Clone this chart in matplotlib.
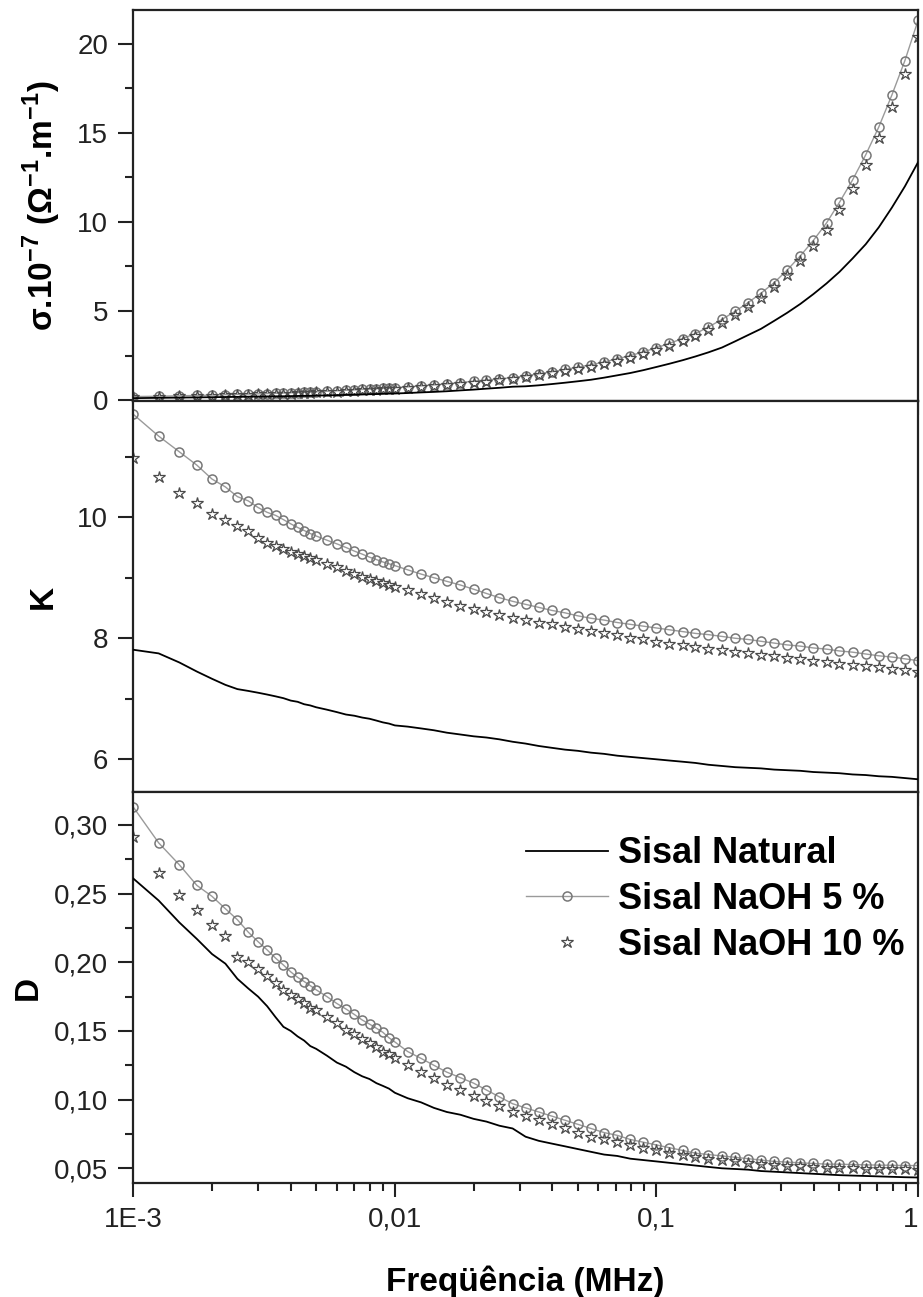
import matplotlib
matplotlib.use("Agg")
import matplotlib.pyplot as plt
from matplotlib.ticker import FixedLocator, FuncFormatter, MultipleLocator, LogLocator, NullFormatter
from matplotlib.transforms import ScaledTranslation

plt.rcParams['font.family'] = ['Liberation Sans', 'DejaVu Sans']
plt.rcParams['mathtext.fontset'] = 'custom'
plt.rcParams['mathtext.rm'] = 'Liberation Sans'
plt.rcParams['mathtext.bf'] = 'Liberation Sans:bold'

# frequency (MHz)
freq = [0.001, 0.00125, 0.0015, 0.00175, 0.002, 0.00225, 0.0025, 0.00275, 0.003, 0.00325,
        0.0035, 0.00375, 0.004, 0.00425, 0.0045, 0.00475, 0.005, 0.0055, 0.006, 0.0065,
        0.007, 0.0075, 0.008, 0.0085, 0.009, 0.0095,
        0.01, 0.0112, 0.0126, 0.0141, 0.0158, 0.0178, 0.02, 0.0224, 0.0251, 0.0282,
        0.0316, 0.0355, 0.0398, 0.0447, 0.0501, 0.0562, 0.0631, 0.0708, 0.0794, 0.0891,
        0.1, 0.112, 0.126, 0.141, 0.158, 0.178, 0.2, 0.224, 0.251, 0.282,
        0.316, 0.355, 0.398, 0.447, 0.501, 0.562, 0.631, 0.708, 0.794, 0.891, 1.0]

labels = ["Sisal Natural", "Sisal NaOH 5 %", "Sisal NaOH 10 %"]

# conductivity sigma.10^-7
sig_nat = [0.109, 0.127, 0.140, 0.152, 0.162, 0.174, 0.181, 0.191, 0.200, 0.207,
           0.212, 0.216, 0.225, 0.232, 0.239, 0.244, 0.252, 0.266, 0.277, 0.292,
           0.303, 0.315, 0.330, 0.339, 0.351, 0.363,
           0.370, 0.397, 0.432, 0.461, 0.497, 0.545, 0.589, 0.643, 0.691, 0.752,
           0.775, 0.830, 0.900, 0.976, 1.057, 1.143, 1.26, 1.39, 1.52, 1.68,
           1.86, 2.04, 2.24, 2.45, 2.68, 2.95, 3.30, 3.65, 4.00, 4.45,
           4.90, 5.40, 5.95, 6.55, 7.20, 7.95, 8.75, 9.70, 10.80, 12.00, 13.35]
sig_5 = [0.197, 0.218, 0.242, 0.261, 0.283, 0.303, 0.321, 0.337, 0.352, 0.368,
         0.383, 0.397, 0.410, 0.424, 0.440, 0.454, 0.468, 0.497, 0.524, 0.550,
         0.575, 0.598, 0.622, 0.645, 0.667, 0.683,
         0.702, 0.741, 0.797, 0.852, 0.910, 0.985, 1.060, 1.125, 1.192, 1.264,
         1.365, 1.476, 1.591, 1.718, 1.846, 1.986, 2.137, 2.324, 2.492, 2.707,
         2.939, 3.182, 3.457, 3.732, 4.103, 4.529, 4.983, 5.472, 6.001, 6.595,
         7.297, 8.100, 8.963, 9.947, 11.106, 12.358, 13.767, 15.331, 17.116, 19.06, 21.31]
sig_10 = [0.178, 0.197, 0.217, 0.238, 0.255, 0.274, 0.281, 0.300, 0.315, 0.330,
          0.344, 0.357, 0.370, 0.385, 0.400, 0.413, 0.428, 0.453, 0.479, 0.499,
          0.524, 0.544, 0.565, 0.585, 0.604, 0.626,
          0.642, 0.687, 0.737, 0.790, 0.842, 0.908, 0.975, 1.043, 1.115, 1.195,
          1.288, 1.391, 1.499, 1.614, 1.734, 1.859, 2.022, 2.195, 2.378, 2.579,
          2.791, 3.016, 3.328, 3.587, 3.935, 4.344, 4.775, 5.231, 5.740, 6.363,
          7.041, 7.805, 8.643, 9.572, 10.66, 11.85, 13.22, 14.74, 16.43, 18.31, 20.37]

# dielectric constant K
k_nat = [7.81, 7.75, 7.60, 7.45, 7.33, 7.23, 7.16, 7.13, 7.10, 7.07,
         7.04, 7.01, 6.97, 6.95, 6.91, 6.89, 6.86, 6.82, 6.78, 6.74,
         6.72, 6.69, 6.67, 6.64, 6.61, 6.59,
         6.56, 6.54, 6.51, 6.48, 6.44, 6.41, 6.38, 6.36, 6.33, 6.29,
         6.26, 6.22, 6.19, 6.16, 6.14, 6.11, 6.09, 6.06, 6.04, 6.02,
         6.00, 5.98, 5.96, 5.94, 5.91, 5.89, 5.87, 5.86, 5.85, 5.83,
         5.82, 5.81, 5.79, 5.78, 5.77, 5.75, 5.74, 5.72, 5.71, 5.69, 5.67]
k_5 = [11.70, 11.34, 11.08, 10.86, 10.63, 10.50, 10.34, 10.27, 10.16, 10.08,
       10.03, 9.96, 9.89, 9.83, 9.78, 9.73, 9.69, 9.62, 9.56, 9.50,
       9.44, 9.39, 9.34, 9.30, 9.26, 9.23,
       9.20, 9.13, 9.06, 9.00, 8.94, 8.88, 8.81, 8.74, 8.67, 8.61,
       8.56, 8.51, 8.46, 8.42, 8.37, 8.33, 8.30, 8.26, 8.23, 8.20,
       8.17, 8.14, 8.11, 8.08, 8.06, 8.03, 8.00, 7.98, 7.95, 7.92,
       7.89, 7.87, 7.84, 7.82, 7.79, 7.77, 7.74, 7.71, 7.69, 7.66, 7.63]
k_10 = [10.97, 10.67, 10.40, 10.23, 10.06, 9.96, 9.86, 9.77, 9.66, 9.58,
        9.52, 9.47, 9.43, 9.39, 9.36, 9.33, 9.29, 9.23, 9.17, 9.11,
        9.06, 9.02, 8.98, 8.94, 8.91, 8.88,
        8.85, 8.79, 8.73, 8.66, 8.60, 8.54, 8.48, 8.43, 8.38, 8.34,
        8.30, 8.26, 8.23, 8.19, 8.16, 8.12, 8.09, 8.05, 8.01, 7.98,
        7.94, 7.91, 7.89, 7.86, 7.83, 7.81, 7.78, 7.75, 7.73, 7.70,
        7.68, 7.65, 7.63, 7.60, 7.58, 7.56, 7.54, 7.52, 7.49, 7.47, 7.45]

# loss factor D
d_nat = [0.261, 0.245, 0.229, 0.217, 0.206, 0.199, 0.188, 0.181, 0.175, 0.168,
         0.160, 0.153, 0.150, 0.146, 0.143, 0.139, 0.137, 0.132, 0.127, 0.124,
         0.120, 0.117, 0.115, 0.112, 0.110, 0.108,
         0.105, 0.101, 0.098, 0.094, 0.091, 0.089, 0.086, 0.084, 0.081, 0.079,
         0.073, 0.070, 0.068, 0.066, 0.064, 0.062, 0.060, 0.059, 0.057, 0.056,
         0.055, 0.054, 0.053, 0.052, 0.051, 0.050, 0.0495, 0.049, 0.048, 0.0475,
         0.047, 0.0465, 0.046, 0.0455, 0.045, 0.0447, 0.0444, 0.0441, 0.0438, 0.0435, 0.0433]
d_5 = [0.313, 0.287, 0.271, 0.256, 0.248, 0.239, 0.231, 0.222, 0.215, 0.209,
       0.203, 0.198, 0.193, 0.189, 0.186, 0.183, 0.180, 0.175, 0.170, 0.166,
       0.162, 0.158, 0.155, 0.152, 0.149, 0.145,
       0.142, 0.135, 0.130, 0.125, 0.120, 0.116, 0.112, 0.107, 0.102, 0.097,
       0.094, 0.091, 0.088, 0.085, 0.082, 0.079, 0.076, 0.074, 0.071, 0.069,
       0.067, 0.065, 0.063, 0.061, 0.060, 0.059, 0.058, 0.057, 0.056, 0.055,
       0.0545, 0.054, 0.0535, 0.053, 0.053, 0.0527, 0.0525, 0.0523, 0.0522, 0.052, 0.052]
d_10 = [0.291, 0.265, 0.249, 0.238, 0.227, 0.219, 0.204, 0.200, 0.195, 0.190,
        0.185, 0.180, 0.176, 0.173, 0.170, 0.167, 0.165, 0.160, 0.156, 0.151,
        0.148, 0.144, 0.141, 0.138, 0.135, 0.133,
        0.130, 0.125, 0.120, 0.116, 0.111, 0.107, 0.103, 0.099, 0.095, 0.091,
        0.088, 0.085, 0.082, 0.079, 0.076, 0.073, 0.071, 0.069, 0.067, 0.065,
        0.063, 0.061, 0.060, 0.058, 0.057, 0.056, 0.055, 0.054, 0.053, 0.0525,
        0.052, 0.0515, 0.051, 0.0505, 0.0503, 0.050, 0.0498, 0.0496, 0.0495, 0.0493, 0.049]

fig, axes = plt.subplots(3, 1, sharex=True, figsize=(9.23, 12.97), dpi=100)
fig.subplots_adjust(left=0.1444, right=0.9946, top=0.9923, bottom=0.0879, hspace=0)

panels = [
    (sig_nat, sig_5, sig_10, (-0.05, 21.9), 5, 2.5, "%d"),
    (k_nat, k_5, k_10, (5.46, 11.92), 2, 1, "%d"),
    (d_nat, d_5, d_10, (0.0393, 0.324), 0.05, 0.025, "comma"),
]
ylabels = [r"σ.10$^{\mathbf{-7}}$ (Ω$^{\mathbf{-1}}$.m$^{\mathbf{-1}}$)", "K", "D"]
label_x = [-0.089, -0.095, -0.114]

for ax, (y_nat, y_5, y_10, ylim, major, minor, fmt), ylab, lx in zip(axes, panels, ylabels, label_x):
    ax.plot(freq, y_nat, color="black", lw=1.3, label=labels[0], zorder=3)
    ax.plot(freq, y_5, color="#9a9a9a", lw=1.0, marker="o", ms=6.5, mfc="none",
            mec="#777777", mew=1.1, label=labels[1], zorder=2)
    ax.plot(freq, y_10, ls="none", marker="*", ms=9, mfc="none",
            mec="#4a4a4a", mew=0.9, label=labels[2], zorder=2)

    ax.set_xscale("log")
    ax.set_xlim(0.001, 1)
    ax.set_ylim(*ylim)
    ax.yaxis.set_major_locator(MultipleLocator(major))
    ax.yaxis.set_minor_locator(MultipleLocator(minor))
    if fmt == "comma":
        ax.yaxis.set_major_formatter(FuncFormatter(lambda v, p: f"{v:.2f}".replace(".", ",")))
    else:
        ax.yaxis.set_major_formatter(FuncFormatter(lambda v, p: f"{v:.0f}"))

    ax.xaxis.set_major_locator(FixedLocator([0.001, 0.01, 0.1, 1]))
    ax.xaxis.set_minor_locator(LogLocator(base=10, subs=range(2, 10)))
    ax.xaxis.set_minor_formatter(NullFormatter())

    ax.tick_params(which="both", direction="out", top=False, right=False,
                   width=1.5, colors="#222222", labelsize=20)
    ax.tick_params(which="major", length=10)
    ax.tick_params(which="minor", length=6)
    ax.tick_params(axis="y", which="major", length=11, pad=7)
    for sp in ax.spines.values():
        sp.set_linewidth(1.6)
        sp.set_color("#222222")

    ax.set_ylabel(ylab, fontsize=24, fontweight="bold")
    ax.yaxis.set_label_coords(lx, 0.5)

xt = {0.001: "1E-3", 0.01: "0,01", 0.1: "0,1", 1: "1"}
axes[2].xaxis.set_major_formatter(FuncFormatter(lambda v, p: xt.get(round(v, 3), "")))
axes[2].tick_params(axis="x", pad=7)
axes[2].set_xlabel("Freqüência (MHz)", fontsize=24, fontweight="bold", labelpad=24)

axes[2].legend(loc="upper left", bbox_to_anchor=(0.50, 0.887), frameon=False,
               prop={"weight": "bold", "size": 26}, handlelength=2.27,
               handletextpad=0.3, labelspacing=0.3, borderpad=0, borderaxespad=0,
               numpoints=1)

# keep the "1" label inside the figure edge
fig.canvas.draw()
last = axes[2].xaxis.get_major_ticks()[-1].label1
last.set_transform(last.get_transform() + ScaledTranslation(-5 / 72, 0, fig.dpi_scale_trans))

fig.savefig("out.png", dpi=100)
